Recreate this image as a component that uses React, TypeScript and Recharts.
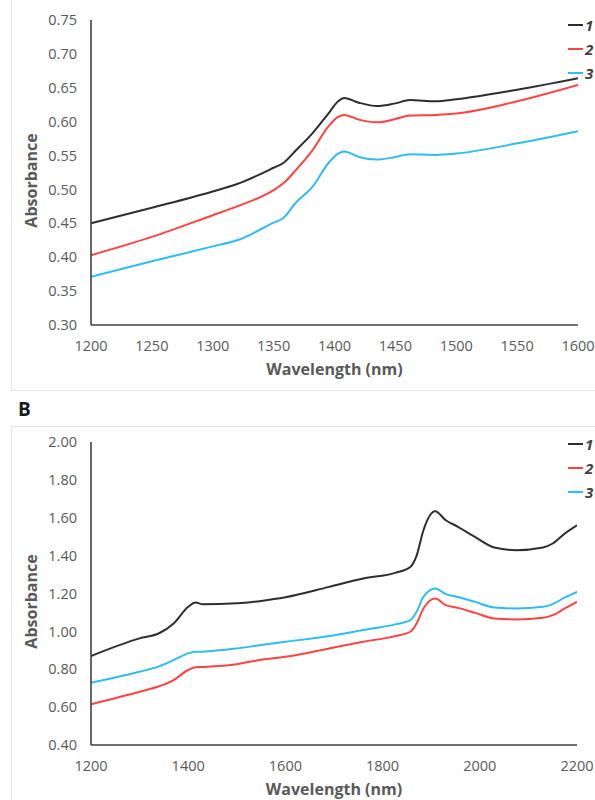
import React from 'react';
import { LineChart, Line, XAxis, YAxis, Label } from 'recharts';

// ---------- Panel A data ----------
const wavelengthsA = [1200, 1250, 1300, 1320, 1350, 1358, 1368, 1382, 1395, 1403, 1408, 1420, 1435, 1450, 1462, 1483, 1500, 1550, 1600];
const seriesA1 = [0.450, 0.473, 0.497, 0.508, 0.532, 0.539, 0.557, 0.583, 0.612, 0.630, 0.635, 0.628, 0.623, 0.627, 0.632, 0.630, 0.633, 0.647, 0.664];
const seriesA2 = [0.403, 0.430, 0.462, 0.475, 0.499, 0.509, 0.528, 0.558, 0.593, 0.607, 0.610, 0.603, 0.599, 0.604, 0.609, 0.610, 0.612, 0.630, 0.654];
const seriesA3 = [0.371, 0.394, 0.416, 0.425, 0.451, 0.458, 0.480, 0.504, 0.539, 0.553, 0.556, 0.548, 0.544, 0.548, 0.552, 0.551, 0.553, 0.568, 0.586];
const xTicksA = [1200, 1250, 1300, 1350, 1400, 1450, 1500, 1550, 1600];
const yTicksA = [0.30, 0.35, 0.40, 0.45, 0.50, 0.55, 0.60, 0.65, 0.70, 0.75];

// ---------- Panel B data ----------
const wavelengthsB = [1200, 1300, 1340, 1370, 1400, 1415, 1430, 1500, 1550, 1600, 1690, 1760, 1826, 1857, 1870, 1884, 1908, 1930, 1955, 1990, 2030, 2075, 2130, 2150, 2175, 2200];
const seriesB1 = [0.870, 0.963, 0.990, 1.042, 1.130, 1.153, 1.143, 1.148, 1.161, 1.180, 1.235, 1.279, 1.309, 1.340, 1.400, 1.534, 1.634, 1.587, 1.552, 1.499, 1.443, 1.429, 1.443, 1.464, 1.517, 1.560];
const seriesB2 = [0.615, 0.681, 0.710, 0.743, 0.796, 0.810, 0.812, 0.827, 0.850, 0.866, 0.910, 0.945, 0.975, 0.998, 1.042, 1.121, 1.174, 1.139, 1.124, 1.098, 1.068, 1.063, 1.072, 1.086, 1.121, 1.156];
const seriesB3 = [0.729, 0.787, 0.815, 0.848, 0.884, 0.892, 0.893, 0.910, 0.928, 0.945, 0.975, 1.007, 1.037, 1.059, 1.103, 1.182, 1.227, 1.197, 1.182, 1.156, 1.126, 1.121, 1.130, 1.144, 1.179, 1.209];
const xTicksB = [1200, 1400, 1600, 1800, 2000, 2200];
const yTicksB = [0.40, 0.60, 0.80, 1.00, 1.20, 1.40, 1.60, 1.80, 2.00];

const seriesNames = ['1', '2', '3'];
const seriesColors = ['#2e2e2e', '#ff4242', '#2fbcf0'];

const dataA = wavelengthsA.map((w, i) => ({ w, s1: seriesA1[i], s2: seriesA2[i], s3: seriesA3[i] }));
const dataB = wavelengthsB.map((w, i) => ({ w, s1: seriesB1[i], s2: seriesB2[i], s3: seriesB3[i] }));

const FONT = '"Open Sans", Lato, sans-serif';
const TICK_COLOR = '#595959';
const AXIS_COLOR = '#404040';

const LegendBox = ({ top, left }: { top: number; left: number }) => (
  <div style={{ position: 'absolute', top, left, fontFamily: FONT }}>
    {seriesNames.map((n, i) => (
      <div key={n} style={{ display: 'flex', alignItems: 'center', height: 24 }}>
        <div style={{ width: 15, height: 2, background: seriesColors[i], marginRight: 2 }} />
        <span style={{ fontWeight: 700, fontStyle: 'italic', fontSize: 15, color: '#404040', lineHeight: '24px' }}>{n}</span>
      </div>
    ))}
  </div>
);

type PanelProps = {
  data: any[];
  width: number;
  height: number;
  margin: { top: number; right: number; bottom: number; left: number };
  xDomain: [number, number];
  xTicks: number[];
  yDomain: [number, number];
  yTicks: number[];
  xTickMargin: number;
};

const Panel = ({ data, width, height, margin, xDomain, xTicks, yDomain, yTicks, xTickMargin }: PanelProps) => {
  const yAxisWidth = 75;
  return (
    <LineChart width={width} height={height} data={data} margin={margin}>
      <XAxis
        dataKey="w"
        type="number"
        domain={xDomain}
        ticks={xTicks}
        allowDataOverflow
        tickLine={false}
        tickSize={0}
        tickMargin={xTickMargin}
        height={67}
        axisLine={{ stroke: AXIS_COLOR, strokeWidth: 1.6 }}
        tick={{ fill: TICK_COLOR, fontSize: 14.5, fontFamily: FONT }}
      >
        <Label
          content={(p: any) => {
            const vb = p.viewBox || { x: 91, y: 325, width: 487 };
            return (
              <text x={vb.x + vb.width / 2} y={vb.y + 50} textAnchor="middle" fill={TICK_COLOR}
                style={{ fontFamily: FONT, fontWeight: 700, fontSize: 16 }}>
                Wavelength (nm)
              </text>
            );
          }}
        />
      </XAxis>
      <YAxis
        type="number"
        domain={yDomain}
        ticks={yTicks}
        width={yAxisWidth}
        tickLine={false}
        tickSize={0}
        tickMargin={14}
        interval={0}
        tickFormatter={(v: number) => v.toFixed(2)}
        axisLine={{ stroke: AXIS_COLOR, strokeWidth: 1.6 }}
        tick={{ fill: TICK_COLOR, fontSize: 14.5, fontFamily: FONT }}
      >
        <Label
          content={(p: any) => {
            const vb = p.viewBox || { x: 16, y: 20, height: 305 };
            const cx = 31;
            const cy = vb.y + vb.height / 2 + 8;
            return (
              <text x={cx} y={cy} textAnchor="middle" dominantBaseline="central" fill={TICK_COLOR}
                transform={`rotate(-90, ${cx}, ${cy})`}
                style={{ fontFamily: FONT, fontWeight: 700, fontSize: 16 }}>
                Absorbance
              </text>
            );
          }}
        />
      </YAxis>
      {['s1', 's2', 's3'].map((k, i) => (
        <Line
          key={k}
          type="monotone"
          dataKey={k}
          name={seriesNames[i]}
          stroke={seriesColors[i]}
          strokeWidth={2}
          dot={false}
          isAnimationActive={false}
        />
      ))}
    </LineChart>
  );
};

export default function App() {
  return (
    <div style={{ position: 'fixed', left: 0, top: 0, width: 595, height: 800, background: '#fff', overflow: 'hidden' }}>
      {/* Panel A frame */}
      <div style={{ position: 'absolute', left: 11, top: -6, width: 600, height: 397, border: '1px solid #e4e4e4', boxSizing: 'border-box' }} />
      <div style={{ position: 'absolute', left: 0, top: 0 }}>
        <Panel
          data={dataA}
          width={595}
          height={392}
          margin={{ top: 20, right: 17, bottom: 0, left: 16 }}
          xDomain={[1200, 1600]}
          xTicks={xTicksA}
          yDomain={[0.3, 0.75]}
          yTicks={yTicksA}
          xTickMargin={16}
        />
      </div>
      <LegendBox top={13} left={568} />
      {/* Label B */}
      <div style={{ position: 'absolute', left: 18, top: 398, fontFamily: FONT, fontWeight: 700, fontSize: 19, color: '#1a1a1a', lineHeight: '22px' }}>B</div>
      {/* Panel B frame */}
      <div style={{ position: 'absolute', left: 11, top: 426, width: 600, height: 380, border: '1px solid #e4e4e4', boxSizing: 'border-box' }} />
      <div style={{ position: 'absolute', left: 0, top: 427 }}>
        <Panel
          data={dataB}
          width={595}
          height={385}
          margin={{ top: 15, right: 18, bottom: 0, left: 16 }}
          xDomain={[1200, 2200]}
          xTicks={xTicksB}
          yDomain={[0.4, 2.0]}
          yTicks={yTicksB}
          xTickMargin={16}
        />
      </div>
      <LegendBox top={432} left={568} />
    </div>
  );
}
